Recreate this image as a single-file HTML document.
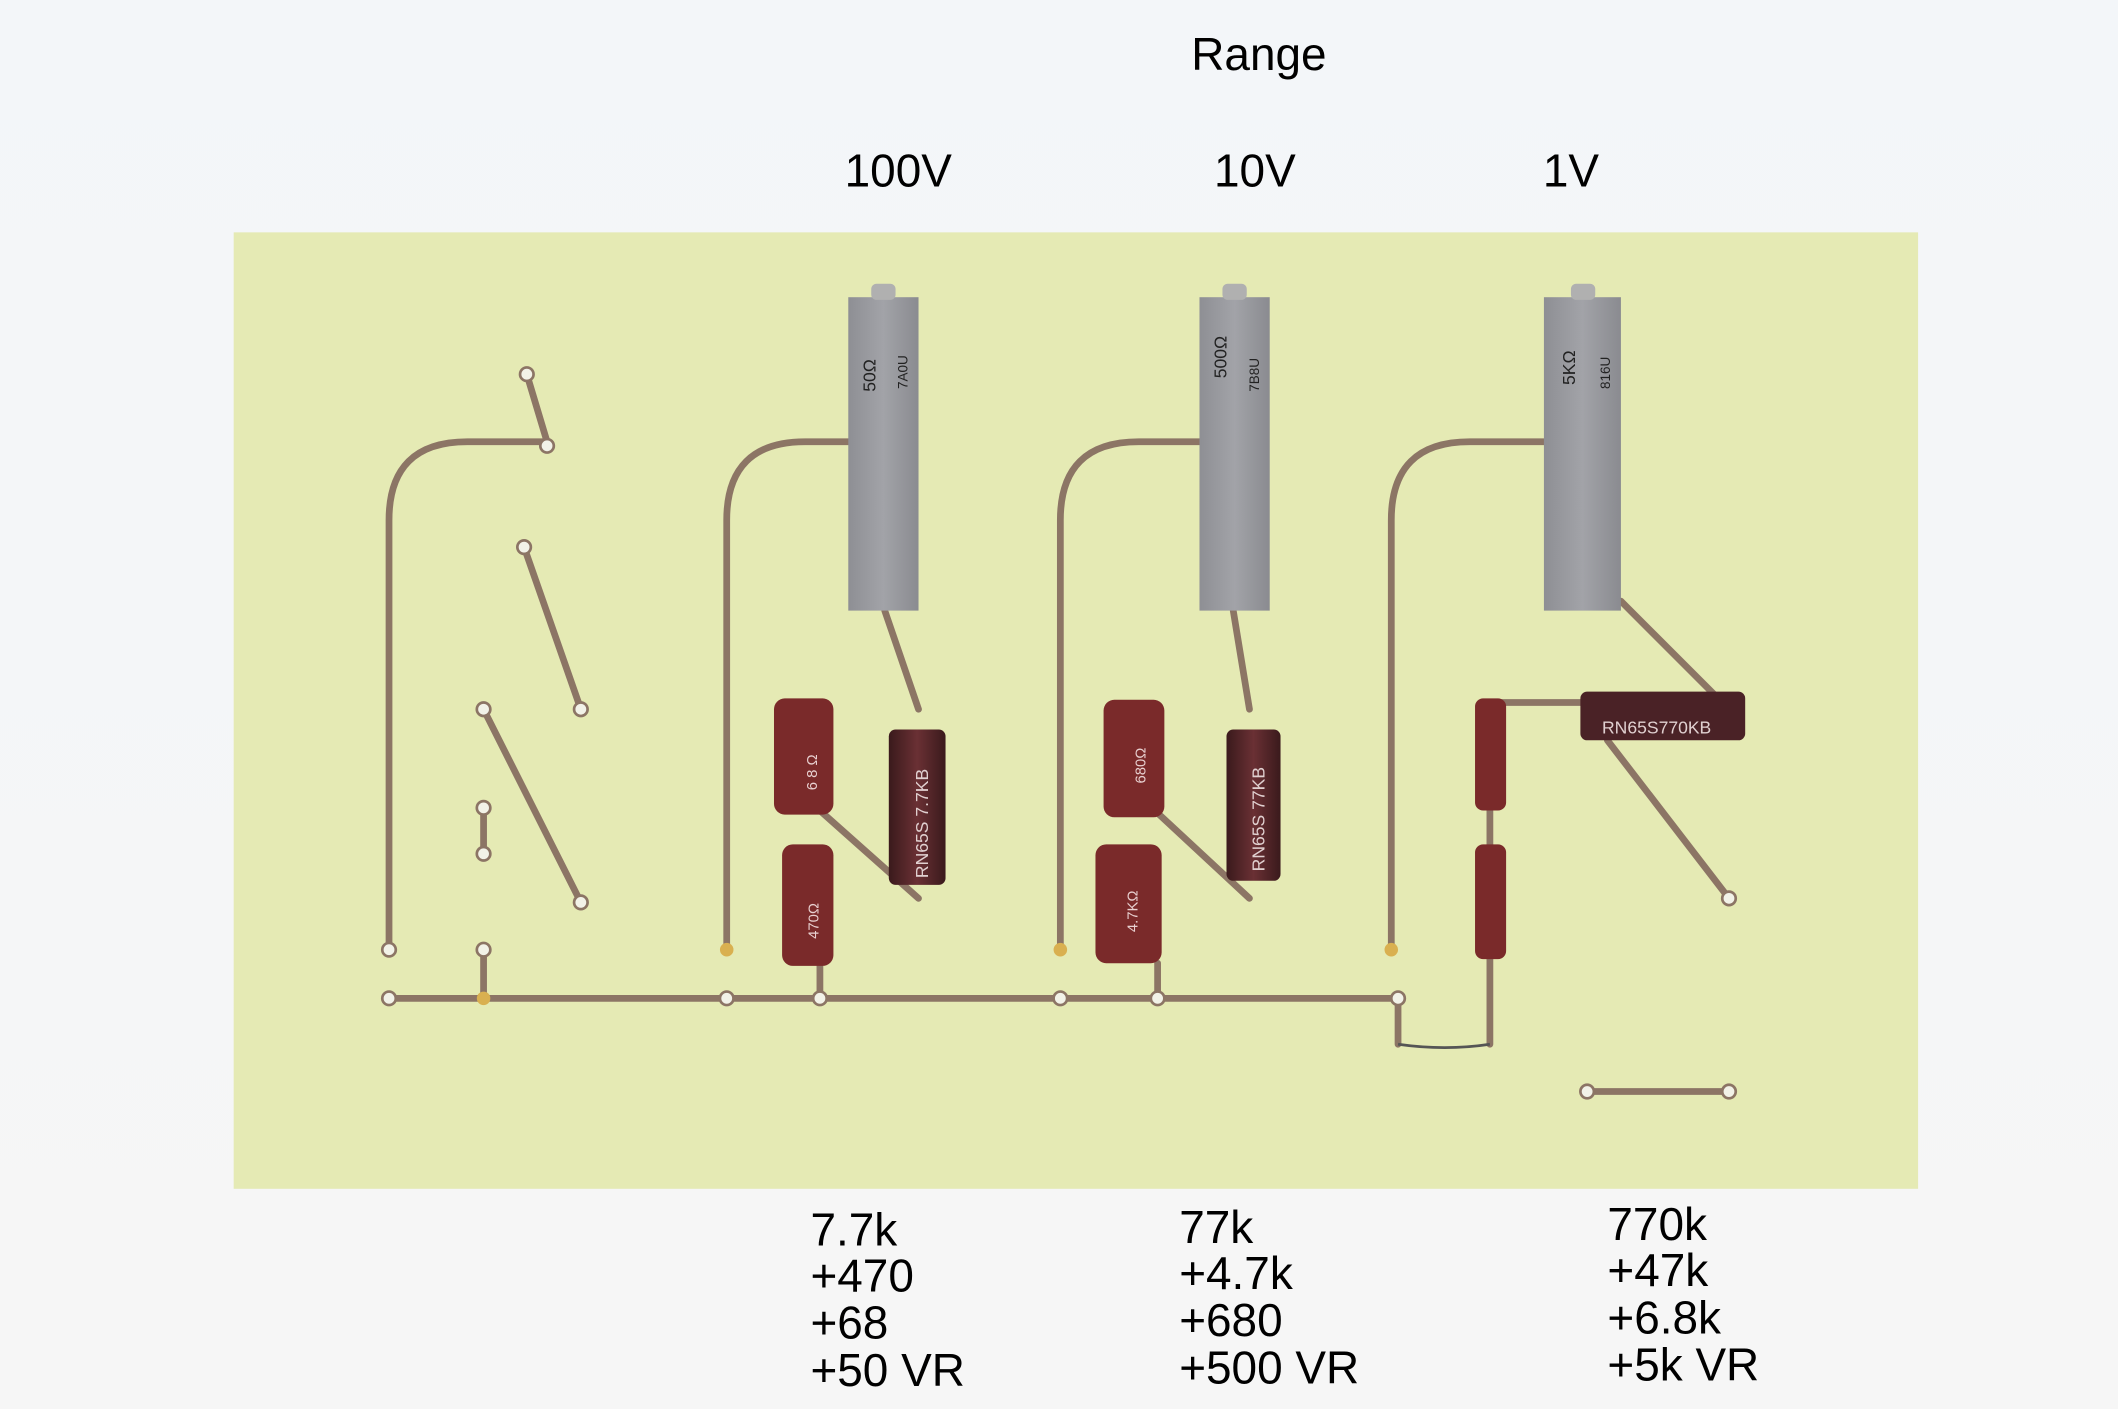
<!DOCTYPE html>
<html><head><meta charset="utf-8"><style>
html,body{margin:0;padding:0;background:#f4f6f8;}
svg{display:block}
text{font-family:"Liberation Sans",sans-serif}
</style></head><body>
<svg width="2118" height="1409" viewBox="0 0 1568 1043" preserveAspectRatio="none" xmlns="http://www.w3.org/2000/svg">
<defs>
<linearGradient id="bg" x1="0" y1="0" x2="0" y2="1"><stop offset="0" stop-color="#f3f6f9"/><stop offset="1" stop-color="#f6f6f6"/></linearGradient>
<linearGradient id="pot" x1="0" x2="1"><stop offset="0" stop-color="#8e8f94"/><stop offset=".5" stop-color="#a2a3a8"/><stop offset="1" stop-color="#8a8b90"/></linearGradient>
<linearGradient id="rn" x1="0" x2="1"><stop offset="0" stop-color="#3a1a1c"/><stop offset=".5" stop-color="#6a3034"/><stop offset="1" stop-color="#3a1a1c"/></linearGradient>
</defs>
<rect width="1568" height="1043" fill="url(#bg)"/>
<rect x="173" y="172" width="1247" height="708" fill="#e5eab4"/>
<g fill="none" stroke="#8c7565" stroke-width="5" stroke-linecap="round">
<path d="M288 703 V385 Q288 327 346 327 H405 L390 277"/>
<path d="M538 703 V385 Q538 327 596 327 H640"/>
<path d="M785 703 V385 Q785 327 843 327 H900"/>
<path d="M1030 703 V385 Q1030 327 1088 327 H1150"/>
<path d="M288 739 H1035 V773"/>
<path d="M388 405 L430 525"/><path d="M358 525 L430 668"/><path d="M358 598 V632"/><path d="M358 703 V739"/>
<path d="M655 452 L680 525"/><path d="M913 452 L925 525"/>
<path d="M1200 445 L1285 530"/><path d="M1190 548 L1280 665"/>
<path d="M607 600 L680 665"/><path d="M855 600 L925 665"/>
<path d="M607 715 V739"/><path d="M857 713 V739"/>
<path d="M1100 520 H1175"/><path d="M1103 600 V628"/><path d="M1103 710 V773"/>
<path d="M1175 808 H1280"/>
</g>
<path d="M1035 773 Q1070 778 1103 773" stroke="#555" stroke-width="2" fill="none"/>
<g fill="#f2f2e8" stroke="#8c7565" stroke-width="2">
<circle cx="390" cy="277" r="5"/><circle cx="405" cy="330" r="5"/><circle cx="388" cy="405" r="5"/><circle cx="430" cy="525" r="5"/><circle cx="358" cy="525" r="5"/><circle cx="430" cy="668" r="5"/><circle cx="358" cy="598" r="5"/><circle cx="358" cy="632" r="5"/><circle cx="358" cy="703" r="5"/><circle cx="288" cy="703" r="5"/>
<circle cx="288" cy="739" r="5"/><circle cx="538" cy="739" r="5"/><circle cx="607" cy="739" r="5"/><circle cx="785" cy="739" r="5"/><circle cx="857" cy="739" r="5"/><circle cx="1035" cy="739" r="5"/>
<circle cx="1280" cy="665" r="5"/><circle cx="1175" cy="808" r="5"/><circle cx="1280" cy="808" r="5"/>
</g>
<g fill="#d9b050"><circle cx="358" cy="739" r="5"/><circle cx="538" cy="703" r="5"/><circle cx="785" cy="703" r="5"/><circle cx="1030" cy="703" r="5"/></g>
<!-- pots -->
<g>
<rect x="628" y="220" width="52" height="232" fill="url(#pot)"/><rect x="645" y="210" width="18" height="12" rx="4" fill="#b0b0b0"/>
<rect x="888" y="220" width="52" height="232" fill="url(#pot)"/><rect x="905" y="210" width="18" height="12" rx="4" fill="#b0b0b0"/>
<rect x="1143" y="220" width="57" height="232" fill="url(#pot)"/><rect x="1163" y="210" width="18" height="12" rx="4" fill="#b0b0b0"/>
<g font-size="13" fill="#222">
<text transform="translate(648,290) rotate(-90)">50Ω</text><text transform="translate(672,288) rotate(-90)" font-size="10">7A0U</text>
<text transform="translate(908,280) rotate(-90)">500Ω</text><text transform="translate(932,290) rotate(-90)" font-size="10">7B8U</text>
<text transform="translate(1166,285) rotate(-90)">5KΩ</text><text transform="translate(1192,288) rotate(-90)" font-size="10">816U</text>
</g>
</g>
<!-- red resistors -->
<g fill="#7a2a2a">
<rect x="573" y="517" width="44" height="86" rx="8"/><rect x="579" y="625" width="38" height="90" rx="8"/>
<rect x="817" y="518" width="45" height="87" rx="8"/><rect x="811" y="625" width="49" height="88" rx="8"/>
<rect x="1092" y="517" width="23" height="83" rx="6"/><rect x="1092" y="625" width="23" height="85" rx="6"/>
</g>
<g fill="#e8d0d0" font-size="11">
<text transform="translate(605,585) rotate(-90)">6 8 Ω</text><text transform="translate(606,695) rotate(-90)">470Ω</text>
<text transform="translate(848,580) rotate(-90)">680Ω</text><text transform="translate(842,690) rotate(-90)">4.7KΩ</text>
</g>
<!-- RN65 -->
<rect x="658" y="540" width="42" height="115" rx="5" fill="url(#rn)"/>
<rect x="908" y="540" width="40" height="112" rx="5" fill="url(#rn)"/>
<rect x="1170" y="512" width="122" height="36" rx="5" fill="#4a2226"/>
<g fill="#e0d0d0" font-size="13">
<text transform="translate(687,650) rotate(-90)">RN65S 7.7KB</text>
<text transform="translate(936,645) rotate(-90)">RN65S 77KB</text>
<text x="1186" y="543">RN65S770KB</text>
</g>
<!-- labels -->
<g font-size="34" fill="#000">
<text x="932" y="52" text-anchor="middle">Range</text>
<text x="665" y="138" text-anchor="middle">100V</text>
<text x="929" y="138" text-anchor="middle">10V</text>
<text x="1163" y="138" text-anchor="middle">1V</text>
<text x="600" y="922">7.7k</text><text x="600" y="956">+470</text><text x="600" y="991">+68</text><text x="600" y="1026">+50 VR</text>
<text x="873" y="920">77k</text><text x="873" y="954">+4.7k</text><text x="873" y="989">+680</text><text x="873" y="1024">+500 VR</text>
<text x="1190" y="918">770k</text><text x="1190" y="952">+47k</text><text x="1190" y="987">+6.8k</text><text x="1190" y="1022">+5k VR</text>
</g>
</svg>
</body></html>
